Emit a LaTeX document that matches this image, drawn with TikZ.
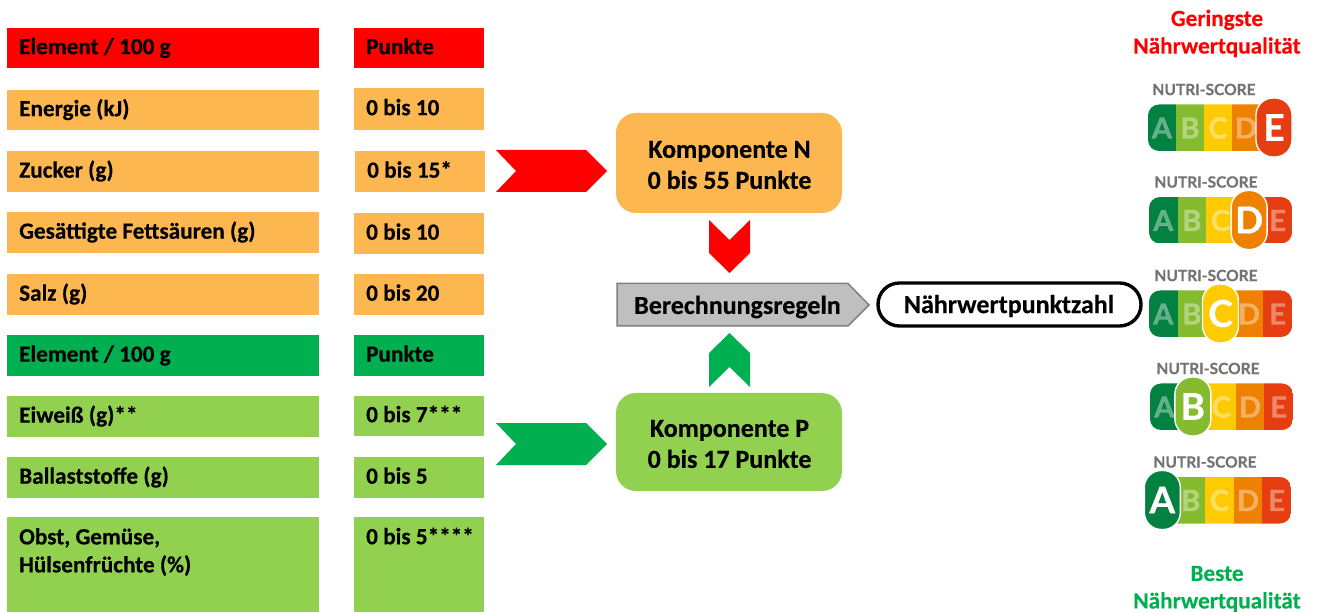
\documentclass[tikz,border=0pt]{standalone}
\usepackage{fontspec}
\setmainfont[BoldFeatures={FakeBold=0.35}]{Carlito}
\newfontfamily\badgefont[BoldFeatures={FakeBold=0.6}]{Lato}
\definecolor{orangebox}{HTML}{FDB750}
\definecolor{limebox}{HTML}{92D050}
\definecolor{greenbox}{HTML}{00B050}
\definecolor{redbox}{HTML}{FF0000}
\definecolor{nsA}{HTML}{038141}
\definecolor{nsB}{HTML}{85BB2F}
\definecolor{nsC}{HTML}{FECB02}
\definecolor{nsD}{HTML}{EE8100}
\definecolor{nsE}{HTML}{E63E11}
\tikzset{
  x=1pt,y=-1pt,
  cell/.style={rectangle,inner sep=0pt,anchor=north west},
  celltext/.style={rectangle,inner sep=0pt,anchor=base west,font=\fontsize{23.2}{28}\selectfont\bfseries},
  cellfree/.style={rectangle,inner sep=0pt,anchor=west,font=\fontsize{23.2}{28}\selectfont\bfseries,align=left},
  bigtext/.style={font=\fontsize{26}{31}\selectfont\bfseries,align=center,inner sep=0pt},
  compbox/.style={rectangle,rounded corners=20pt,minimum width=226pt,inner sep=0pt},
  qual/.style={font=\fontsize{23.2}{27.5}\selectfont\bfseries,align=center,inner sep=0pt},
  nstitle/.style={font=\badgefont\fontsize{15.5}{16}\selectfont\bfseries,text=black!55,inner sep=0pt},
  nsletter/.style={font=\fontsize{29}{29}\selectfont\badgefont\bfseries,text=white,opacity=.38,text opacity=.38,inner sep=0pt},
  nsactive/.style={font=\badgefont\fontsize{37}{37}\selectfont\bfseries,text=white,inner sep=0pt},
}
% #1 name, #2 x, #3 y, #4 w, #5 h, #6 colour, #7 text
\newcommand{\cellbox}[7]{%
  \node[cell,fill=#6,minimum width=#4pt,minimum height=#5pt] (#1) at (#2,#3) {};
  \node[celltext] (#1t) at ([xshift=12pt,yshift=-6pt]#1.west) {#7};}
% badge: #1 x0, #2 top of bar, #3 active index 0-4, #4 active colour, #5 letter, #6 title x, #7 segment width
\newcommand{\nsbadge}[7]{%
  \begin{scope}
    \clip[rounded corners=11pt] (#1,#2) rectangle ++(5*#7,46.5);
    \fill[nsA] (#1,#2) rectangle ++(#7,46.5);
    \fill[nsB] (#1+#7,#2) rectangle ++(#7,46.5);
    \fill[nsC] (#1+2*#7,#2) rectangle ++(#7,46.5);
    \fill[nsD] (#1+3*#7,#2) rectangle ++(#7,46.5);
    \fill[nsE] (#1+4*#7,#2) rectangle ++(#7,46.5);
  \end{scope}
  \foreach \i/\l in {0/A,1/B,2/C,3/D,4/E}{
    \ifnum\i=#3\relax\else
      \node[nsletter] (ltr\l#5) at (#1+#7/2+\i*#7,#2+23.5) {\l};
    \fi}
  \fill[#4,draw=white,line width=1.4pt,rounded corners=17pt] (#1+#7/2+#3*#7-18,#2-6.5) rectangle ++(36,59);
  \node[nsactive] (act#5) at (#1+#7/2+#3*#7,#2+23) {#5};
  \node[nstitle] (title#5) at (#6,#2-15) {NUTRI-SCORE};
}
\begin{document}
\begin{tikzpicture}
\useasboundingbox (0,0) rectangle (1318,612);
% left column
\cellbox{h1}{7}{28}{312}{40}{redbox}{Element / 100 g}
\cellbox{e1}{7}{90}{312}{40}{orangebox}{Energie (kJ)}
\cellbox{e2}{7}{151}{312}{41}{orangebox}{Zucker (g)}
\cellbox{e3}{7}{212}{312}{41}{orangebox}{Gesättigte Fettsäuren (g)}
\cellbox{e4}{7}{274}{312}{41}{orangebox}{Salz (g)}
\cellbox{h2}{7}{335}{312}{41}{greenbox}{Element / 100 g}
\cellbox{p1}{7}{396}{312}{41}{limebox}{Eiweiß (g)**}
\cellbox{p2}{7}{457}{312}{41}{limebox}{Ballaststoffe (g)}
\fill[limebox] (7,517) rectangle (319,612);
\node[cellfree] (p3) at (19,552) {Obst, Gemüse,\\Hülsenfrüchte (\%)};
% points column
\cellbox{ph1}{354}{28}{130}{40}{redbox}{Punkte}
\cellbox{q1}{354}{88}{130}{42}{orangebox}{0 bis 10}
\cellbox{q2}{355}{151}{130}{41}{orangebox}{0 bis 15*}
\cellbox{q3}{354}{213}{130}{41}{orangebox}{0 bis 10}
\cellbox{q4}{354}{274}{130}{41}{orangebox}{0 bis 20}
\cellbox{ph2}{354}{335}{130}{41}{greenbox}{Punkte}
\cellbox{r1}{354}{396}{130}{40}{limebox}{0 bis 7***}
\cellbox{r2}{354}{457}{130}{41}{limebox}{0 bis 5}
\fill[limebox] (354,517) rectangle (484,612);
\node[cellfree] (r3) at (366,536) {0 bis 5****};
% chevrons
\fill[redbox] (496,150) -- (586,150) -- (607,171) -- (586,192) -- (496,192) -- (516,171) -- cycle;
\fill[greenbox] (496,423) -- (586,423) -- (607,444) -- (586,465) -- (496,465) -- (516,444) -- cycle;
\fill[redbox] (709,220) -- (729.5,240) -- (750,220) -- (750,253) -- (729.5,273) -- (709,253) -- cycle;
\fill[greenbox] (709,387) -- (729.5,367) -- (750,387) -- (750,353) -- (729.5,333) -- (709,353) -- cycle;
% components
\node[compbox,fill=orangebox,minimum height=100pt] (kn) at (729,163) {};
\node[bigtext] (knt) at (729.5,165) {Komponente N\\0 bis 55 Punkte};
\node[compbox,fill=limebox,minimum height=98pt] (kp) at (729,442) {};
\node[bigtext] (kpt) at (729.5,444) {Komponente P\\0 bis 17 Punkte};
\draw[draw=black!50,fill=black!25,line width=1.5pt] (617,283.5) -- (848,283.5) -- (869,305) -- (848,326) -- (617,326) -- cycle;
\node[bigtext] (calc) at (737.5,307) {Berechnungsregeln};
\node[draw=black,fill=white,line width=3.4pt,rounded corners=21.4pt,minimum width=263pt,minimum height=43pt,inner sep=0pt] (score) at (1009.5,304.5) {};
\node[bigtext] (scoret) at (1009,306) {Nährwertpunktzahl};
% quality labels
\node[qual,text=redbox] (worst) at (1217,33.5) {Geringste\\Nährwertqualität};
\node[qual,text=greenbox] (best) at (1217,589) {Beste\\Nährwertqualität};
% badges
\nsbadge{1148}{104.5}{4}{nsE}{E}{1204}{28}
\nsbadge{1149}{197}{3}{nsD}{D}{1206}{28.6}
\nsbadge{1149}{290.5}{2}{nsC}{C}{1206}{28.6}
\nsbadge{1150}{383.5}{1}{nsB}{B}{1208}{28.6}
\nsbadge{1148}{477}{0}{nsA}{A}{1205}{28.6}
\end{tikzpicture}
\end{document}
